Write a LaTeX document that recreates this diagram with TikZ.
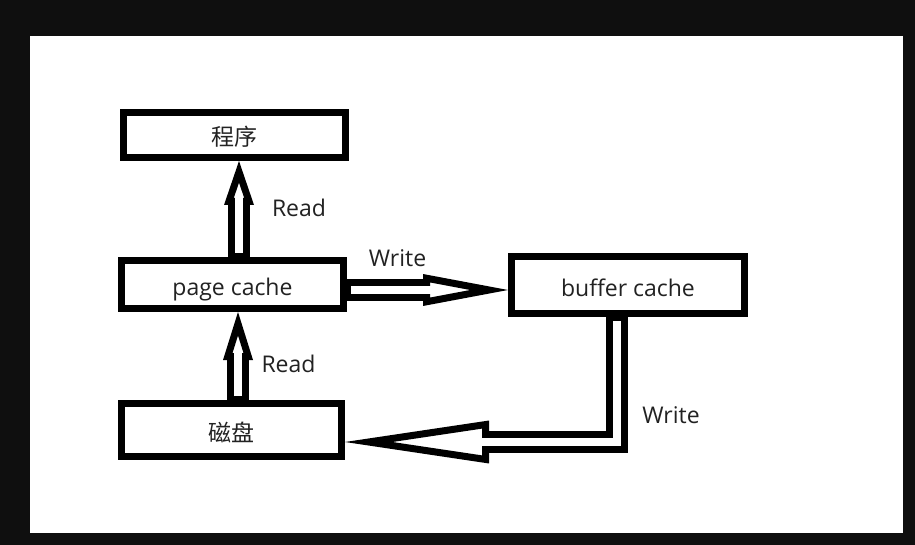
\documentclass[tikz,border=0pt]{standalone}
\usepackage{fontspec}
\setmainfont{Open Sans}
\newfontfamily\cjk{Noto Sans CJK SC}
\usepackage{tikz}
\usetikzlibrary{calc,decorations.markings}
\definecolor{frame}{HTML}{0F0F0F}
\definecolor{ink}{HTML}{000000}
\definecolor{txt}{HTML}{222222}
\newcommand{\HollowHead}[2]{% length, width (pt)
  \pgfmathsetmacro\hhA{atan(#2/2/#1)}
  \pgfmathsetmacro\hhT{-3.5/sin(\hhA)}
  \pgfmathsetmacro\hhB{3.5-#1}
  \pgfmathsetmacro\hhW{(#1-3.5)*tan(\hhA)-3.5/cos(\hhA)}
  \draw[draw=ink, line width=7pt, line join=miter, fill=white] (\hhT,0) -- (\hhB,\hhW) -- (\hhB,-\hhW) -- cycle;
}
\tikzset{
  box/.style={draw=ink, line width=7pt, fill=white, inner sep=0pt,
    text height=22pt, text depth=0pt,
    font=\fontsize{23}{27}\selectfont, text=txt},
  lbl/.style={inner sep=0pt, font=\fontsize{23}{27}\selectfont, text=txt},
  hollow/.style 2 args={
    preaction={draw=ink, line width=22pt, shorten >=#1pt-3pt},
    postaction={decorate, decoration={markings, mark=at position 1 with {\HollowHead{#1}{#2}}}},
    postaction={draw=white, line width=8pt, shorten <=4pt, shorten >=#1pt-8pt}}
}

\begin{document}
\begin{tikzpicture}[x=1pt,y=-1pt]
  \fill[frame] (0,0) rectangle (915,545);
  \fill[white] (30,36) rectangle (903,533);
  % boxes
  \node[box, minimum width=222pt, minimum height=45pt] (prog) at (234.5,135) {\cjk 程序};
  \node[box, minimum width=222pt, minimum height=48pt] (page) at (232.5,284.5) {page cache};
  \node[box, minimum width=233pt, minimum height=57pt] (buf) at (628,285) {buffer cache};
  \node[box, minimum width=220pt, minimum height=53pt] (disk) at (231.5,430) {\cjk 磁盘};
  % arrows
  \path[hollow={44}{30}] ([xshift=6.5pt]page.north) -- ([xshift=4.5pt]prog.south);
  \path[hollow={48}{30}] ([xshift=6.5pt]disk.north) -- ([xshift=5.5pt]page.south);
  \path[hollow={85}{32}] ([yshift=-5.5pt]page.east) -- ([yshift=-5pt]buf.west);
  \path[hollow={144}{43}] ([xshift=-11pt]buf.south) |- ([yshift=-12pt]disk.east);
  % labels
  \node[lbl] (rd1) at (299,208) {Read};
  \node[lbl] (rd2) at (288.5,364) {Read};
  \node[lbl] (wr1) at (397.5,258) {Write};
  \node[lbl] (wr2) at (671,415) {Write};
\end{tikzpicture}
\end{document}
